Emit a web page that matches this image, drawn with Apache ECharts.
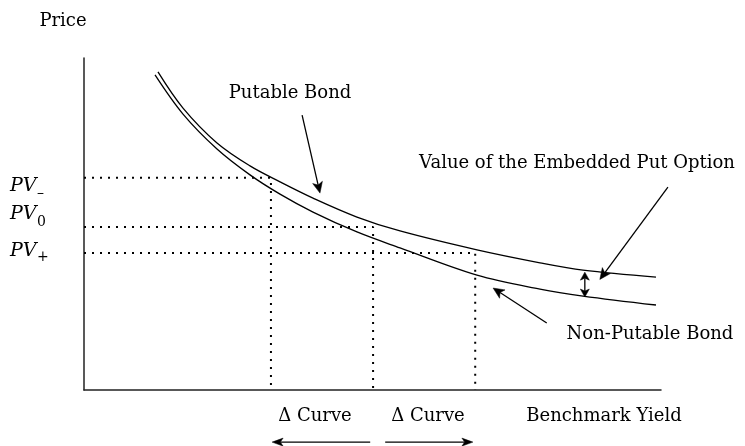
<!DOCTYPE html>
<html><head><meta charset="utf-8">
<script src="https://cdn.jsdelivr.net/npm/echarts@6/dist/echarts.min.js"></script>
<style>html,body{margin:0;padding:0;background:#fff}#c{width:745px;height:446px}</style>
</head><body><div id="c"></div>
<script>
// ---- data (yield on x, price on y; arbitrary units) ----
const putableYield = [1.282, 1.716, 2.305, 2.877, 3.397, 3.969, 4.731, 5.477, 6.811, 7.903, 8.648, 9.913];
const putablePrice = [95.8, 84.9, 74.4, 67.5, 62.7, 57.8, 52.1, 47.9, 42.2, 38.3, 36.1, 34.0];
const nonPutableYield = [1.231, 1.716, 2.305, 2.877, 3.397, 3.969, 4.731, 5.477, 6.811, 7.903, 8.648, 9.913];
const nonPutablePrice = [94.9, 83.1, 72.6, 64.8, 59.0, 53.6, 47.6, 42.8, 34.6, 30.4, 28.3, 25.6];
const pvPrice = [63.9, 49.1, 41.3];      // PV-, PV0, PV+
const pvYield = [3.24, 5.01, 6.78];
const pvSubscripts = ['\u2013', '0', '+'];
const textLabels = ['Price', 'Putable Bond', 'Value of the Embedded Put Option', 'Non-Putable Bond', '\u0394 Curve', '\u0394 Curve', 'Benchmark Yield'];

const FONT = '"DejaVu Serif", "Liberation Serif", serif';
const chart = echarts.init(document.getElementById('c'), null, {renderer: 'canvas'});

function zip(a, b) { return a.map((v, i) => [v, b[i]]); }

const series = [];
pvPrice.forEach((p, i) => {
  series.push({
    type: 'line', data: [[0, p], [pvYield[i], p], [pvYield[i], 0]],
    symbol: 'none', silent: true, z: 1,
    lineStyle: {color: '#000', width: 2, type: [2, 6]}
  });
});
series.push({type: 'line', data: zip(putableYield, putablePrice), smooth: 0.35,
  symbol: 'none', z: 3, lineStyle: {color: '#000', width: 1.3}});
series.push({type: 'line', data: zip(nonPutableYield, nonPutablePrice), smooth: 0.35,
  symbol: 'none', z: 3, lineStyle: {color: '#000', width: 1.3}});

const axisCommon = {
  type: 'value', axisTick: {show: false}, axisLabel: {show: false}, splitLine: {show: false},
  axisLine: {show: true, onZero: false, lineStyle: {color: '#222', width: 1.5}}
};

chart.setOption({
  animation: false,
  backgroundColor: '#fff',
  grid: {left: 84, top: 58, width: 577, height: 332, containLabel: false},
  xAxis: Object.assign({min: 0, max: 10}, axisCommon),
  yAxis: Object.assign({min: 0, max: 100}, axisCommon),
  series: series
});

function px(pt) { return chart.convertToPixel({gridIndex: 0}, pt); }

function arrow(p0, p1, headEnd, headStart, hl, hw) {
  const a = px(p0), b = px(p1);
  const dx = b[0] - a[0], dy = b[1] - a[1], L = Math.hypot(dx, dy);
  const ux = dx / L, uy = dy / L, nx = -uy, ny = ux;
  const els = [];
  let s = a.slice(), e = b.slice();
  function head(tip, dir) {
    const bx = tip[0] - dir[0] * hl, by = tip[1] - dir[1] * hl;
    const notch = [tip[0] - dir[0] * hl * 0.75, tip[1] - dir[1] * hl * 0.75];
    els.push({type: 'polygon', z: 10, silent: true,
      shape: {points: [tip, [bx + nx * hw, by + ny * hw], notch, [bx - nx * hw, by - ny * hw]]},
      style: {fill: '#000', stroke: '#000', lineWidth: 0.5}});
    return notch;
  }
  if (headEnd) e = head(b, [ux, uy]);
  if (headStart) s = head(a, [-ux, -uy]);
  els.push({type: 'line', z: 10, silent: true, shape: {x1: s[0], y1: s[1], x2: e[0], y2: e[1]},
    style: {stroke: '#000', lineWidth: 1.3}});
  return els;
}

function txt(t, x, y, size, align, style) {
  return {type: 'text', x: x, y: y, z: 10, silent: true,
    style: {text: t, fontFamily: FONT, fontSize: size, fontStyle: style || 'normal',
      fill: '#000', align: align || 'center', verticalAlign: 'middle'}};
}

let g = [];
g = g.concat(arrow([3.78, 82.8], [4.09, 59.3], true, false, 11, 5));
g = g.concat(arrow([8.02, 20.2], [7.09, 30.7], true, false, 11, 5));
g = g.concat(arrow([10.12, 61.1], [8.94, 33.3], true, false, 11, 5));
g = g.concat(arrow([8.68, 35.5], [8.68, 28.0], true, true, 8, 4.5));
g = g.concat(arrow([4.96, -15.7], [3.26, -15.7], true, false, 11, 4));
g = g.concat(arrow([5.22, -15.7], [6.74, -15.7], true, false, 11, 4));

g.push(txt(textLabels[0], 63, 21, 18));
g.push(txt(textLabels[1], 290, 93, 18));
g.push(txt(textLabels[2], 577, 163, 18));
g.push(txt(textLabels[3], 650, 334, 18));
g.push(txt(textLabels[4], 315, 416, 18));
g.push(txt(textLabels[5], 428, 416, 18));
g.push(txt(textLabels[6], 604, 416, 18));

const pvY = [186, 214, 251];
const subY = [193, 222, 257];
pvY.forEach((y, i) => {
  g.push(txt('PV', 10, y, 19, 'left', 'italic'));
  g.push(txt(pvSubscripts[i], 37, subY[i], 14, 'left'));
});

chart.setOption({graphic: g});
</script></body></html>
